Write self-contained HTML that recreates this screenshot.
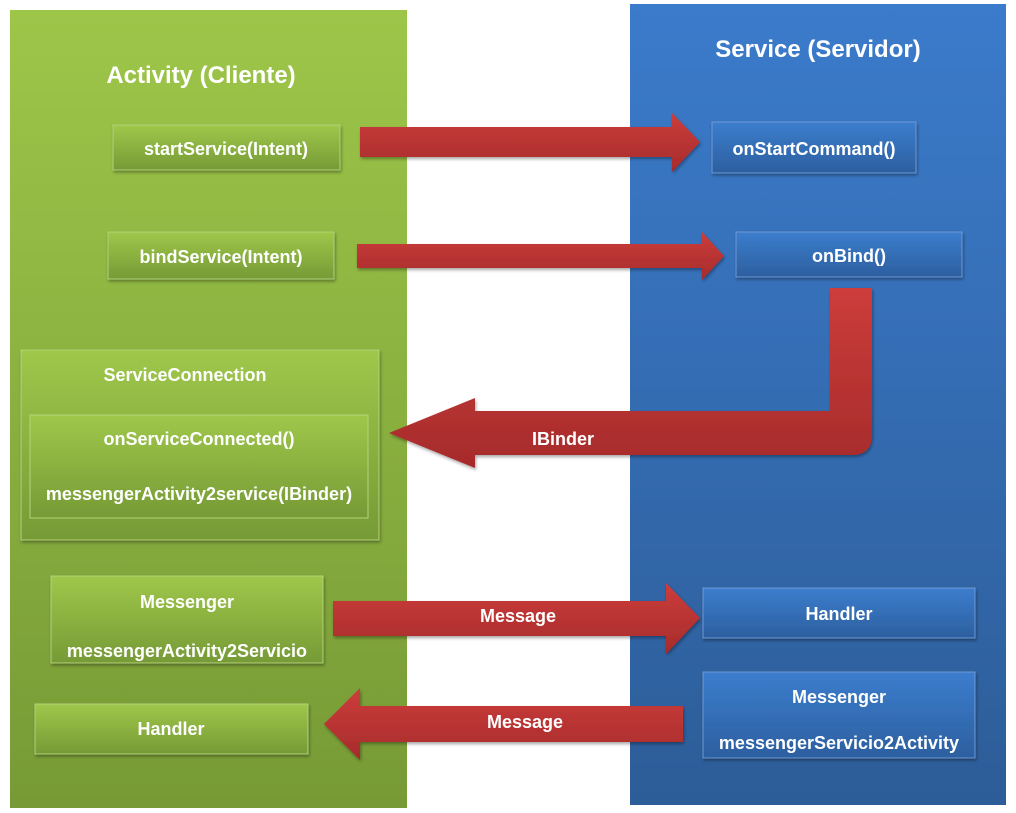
<!DOCTYPE html>
<html><head><meta charset="utf-8"><style>
body{margin:0;width:1016px;height:808px;background:#fff;overflow:hidden;font-family:"Liberation Sans",sans-serif}
text{font-family:"Liberation Sans",sans-serif;font-weight:bold;fill:#fff}
</style></head><body>
<svg width="1016" height="808" viewBox="0 0 1016 808">
<defs>
<linearGradient id="gp" x1="0" y1="0" x2="0" y2="1"><stop offset="0" stop-color="#9dc649"/><stop offset="1" stop-color="#779a36"/></linearGradient>
<linearGradient id="bp" x1="0" y1="0" x2="0" y2="1"><stop offset="0" stop-color="#3b7bcb"/><stop offset="1" stop-color="#2d5d98"/></linearGradient>
<linearGradient id="gb" x1="0" y1="0" x2="0" y2="1"><stop offset="0" stop-color="#9fc74a"/><stop offset="1" stop-color="#769a36"/></linearGradient>
<linearGradient id="bb" x1="0" y1="0" x2="0" y2="1"><stop offset="0" stop-color="#3c7dcd"/><stop offset="1" stop-color="#2c5f9f"/></linearGradient>
<linearGradient id="ra" x1="0" y1="0" x2="0" y2="1"><stop offset="0" stop-color="#cc3d3b"/><stop offset="1" stop-color="#a62b2b"/></linearGradient>
<filter id="sh"><feDropShadow dx="1" dy="2" stdDeviation="1.5" flood-opacity="0.35"/></filter>
</defs>
<rect x="10" y="10" width="397" height="798" fill="url(#gp)"/>
<rect x="630" y="4" width="376" height="801" fill="url(#bp)"/>
<text x="201" y="83" font-size="24" text-anchor="middle">Activity (Cliente)</text>
<text x="818" y="57" font-size="24" text-anchor="middle">Service  (Servidor)</text>

<g filter="url(#sh)" stroke-width="1">
<rect x="113" y="125" width="227" height="45" fill="url(#gb)" stroke="#b5d37a"/>
<rect x="108" y="232" width="226" height="47" fill="url(#gb)" stroke="#b5d37a"/>
<rect x="712" y="122" width="204" height="51" fill="url(#bb)" stroke="#6f9ad6"/>
<rect x="736" y="232" width="226" height="45" fill="url(#bb)" stroke="#6f9ad6"/>
<rect x="21" y="350" width="358" height="190" fill="url(#gb)" stroke="#b5d37a"/>
<rect x="30" y="415" width="338" height="103" fill="url(#gb)" stroke="#b5d37a"/>
<rect x="51" y="576" width="272" height="87" fill="url(#gb)" stroke="#b5d37a"/>
<rect x="35" y="704" width="273" height="50" fill="url(#gb)" stroke="#b5d37a"/>
<rect x="703" y="588" width="272" height="50" fill="url(#bb)" stroke="#6f9ad6"/>
<rect x="703" y="672" width="272" height="86" fill="url(#bb)" stroke="#6f9ad6"/>

<polygon points="360,127 672,127 672,113 700,142 672,172 672,157 360,157" fill="url(#ra)"/>
<polygon points="357,244 702,244 702,232 724,256 702,280 702,268 357,268" fill="url(#ra)"/>
<path d="M830,288 L872,288 L872,435 Q872,455 852,455 L475,455 L475,468 L389,433 L475,398 L475,411 L830,411 Z" fill="url(#ra)"/>
<polygon points="333,601 666,601 666,583 700,618 666,654 666,636 333,636" fill="url(#ra)"/>
<polygon points="683,706 360,706 360,688 324,724 360,760 360,742 683,742" fill="url(#ra)"/>
</g>

<g font-size="18" text-anchor="middle">
<text x="226" y="155">startService(Intent)</text>
<text x="221" y="263">bindService(Intent)</text>
<text x="814" y="155">onStartCommand()</text>
<text x="849" y="262">onBind()</text>
<text x="185" y="381">ServiceConnection</text>
<text x="199" y="445">onServiceConnected()</text>
<text x="199" y="500">messengerActivity2service(IBinder)</text>
<text x="563" y="445">IBinder</text>
<text x="187" y="608">Messenger</text>
<text x="187" y="657">messengerActivity2Servicio</text>
<text x="171" y="735">Handler</text>
<text x="518" y="622">Message</text>
<text x="525" y="728">Message</text>
<text x="839" y="620">Handler</text>
<text x="839" y="703">Messenger</text>
<text x="839" y="749">messengerServicio2Activity</text>
</g>
</svg>
</body></html>
